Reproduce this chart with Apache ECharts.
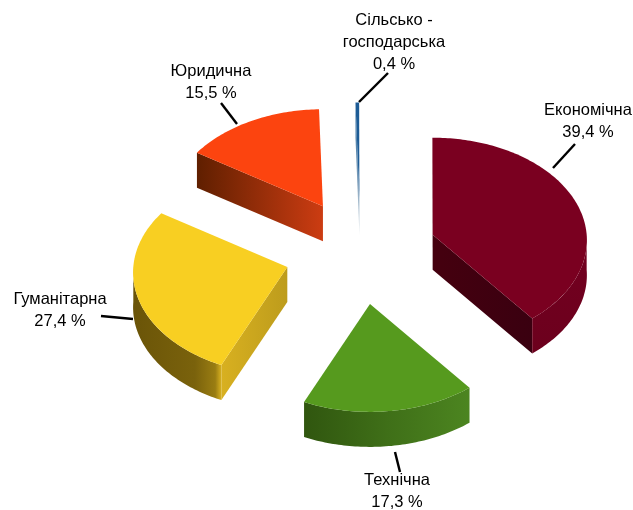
<!DOCTYPE html>
<html><head><meta charset="utf-8">
<style>html,body{margin:0;padding:0;background:#fff}#c{width:633px;height:510px}</style>
<script src="https://cdn.jsdelivr.net/npm/echarts@6/dist/echarts.min.js"></script>
</head><body><div id="c"></div>
<script>
const categories = ['Економічна','Технічна','Гуманітарна','Юридична','Сільсько -\nгосподарська'];
const values = [39.4, 17.3, 27.4, 15.5, 0.4];

const topColors = ['#7a0020','#569a1e','#f8cf22','#fc440f','#1d5c96'];
const arcStops = [
  [[0,'#730020'],[1,'#6c001d']],
  [[0,'#30560f'],[0.5,'#3f6f18'],[1,'#4c8520']],
  [[0,'#6a5408'],[0.7,'#7a620c'],[0.93,'#9a7d12'],[1,'#d8b020']],
  [[0,'#5f1f00'],[1,'#c83a10']],
  [[0,'#1d5c96'],[1,'#1d5c96']]
];
const radialStops = [
  [[0,'#3a0010'],[1,'#45000f']],
  [[0,'#30560f'],[1,'#4c8520']],
  [[0,'#d8b020'],[1,'#bd9c1c']],
  [[0,'#5f1f00'],[1,'#cc3c12']],
  [[0,'#2a6aa0'],[0.6,'#7f9fba'],[1,'#dfe6ea']]
];
const labelCenters = [[588,110],[397,480],[60,299],[211,71],[394,20]];
const leaderLines = [
  [[575,144],[553,168]],
  [[395,452],[400,472]],
  [[101,316],[133,319]],
  [[221,103],[237,124]],
  [[388,73],[359,102]]
];

const START_DEG = -0.1, CX = 360.5, CY = 251.9, EX = 76.4, EY = 52.4;
const RX = 154, RY = 102.2, PERSP = 0.0536, DEPTH = 35;
const total = values.reduce((a,b)=>a+b,0);
const rad = d => d*Math.PI/180;

function rimPoint(ax, ay, deg, dy){
  const t = rad(deg), w = 1 + PERSP*Math.cos(t);
  return [ax + RX*Math.sin(t)/w, ay - RY*Math.cos(t)/w + dy];
}
function arcPoints(ax, ay, from, to, dy){
  const pts = [], n = Math.max(2, Math.ceil(Math.abs(to-from)));
  for (let i=0;i<=n;i++) pts.push(rimPoint(ax, ay, from+(to-from)*i/n, dy));
  return pts;
}
function grad(dir,stops){
  return new echarts.graphic.LinearGradient(dir[0],dir[1],dir[2],dir[3],stops.map(s=>({offset:s[0],color:s[1]})));
}
function renderSlice(params, api){
  const i = params.dataIndex, v = api.value(0);
  let before = 0;
  for (let k=0;k<i;k++) before += values[k];
  const a0 = START_DEG + before/total*360, a1 = a0 + v/total*360, mid = (a0+a1)/2;
  const ax = CX + EX*Math.sin(rad(mid)), ay = CY - EY*Math.cos(rad(mid));
  const kids = [];
  // radial faces that look toward the viewer; the sliver always shows one
  [[a0,-90],[a1,90]].forEach(([edge,off],side)=>{
    const facing = i === 4 ? side === 0 : Math.cos(rad(edge+off)) < 0;
    if (facing) {
      const o = rimPoint(ax,ay,edge,0), b = rimPoint(ax,ay,edge,DEPTH);
      const dir = i === 4 ? [0,0,0,1] : (o[0] < ax ? [0,0,1,0] : [1,0,0,0]);
      kids.push({type:'polygon',shape:{points:[[ax,ay],o,b,[ax,ay+DEPTH]]},
        style:{fill:grad(dir,radialStops[i]),lineWidth:0}});
    }
  });
  // outer wall, only the front half of the rim
  const f0 = Math.max(a0,90), f1 = Math.min(a1,270);
  if (f1 > f0) {
    const top = arcPoints(ax,ay,f0,f1,0), bot = arcPoints(ax,ay,f1,f0,DEPTH);
    const dir = i === 0 ? [0,0,0,1] : [0,0,1,0];
    kids.push({type:'polygon',shape:{points:top.concat(bot)},
      style:{fill:grad(dir,arcStops[i]),lineWidth:0}});
  }
  // top face
  kids.push({type:'polygon',shape:{points:[[ax,ay]].concat(arcPoints(ax,ay,a0,a1,0))},
    style:{fill:topColors[i],lineWidth:0}});
  // leader and label
  kids.push({type:'line',shape:{x1:leaderLines[i][0][0],y1:leaderLines[i][0][1],x2:leaderLines[i][1][0],y2:leaderLines[i][1][1]},
    style:{stroke:'#000',lineWidth:2.4}});
  const label = categories[i] + '\n' + String(v).replace('.',',') + ' %';
  kids.push({type:'text',style:{x:labelCenters[i][0],y:labelCenters[i][1]-11,text:label,
    align:'center',verticalAlign:'top',font:'16.5px "Liberation Sans", Arial, sans-serif',lineHeight:22,fill:'#000'}});
  return {type:'group',children:kids};
}

const chart = echarts.init(document.getElementById('c'));
chart.setOption({
  animation:false,
  backgroundColor:'#fff',
  series:[{
    type:'custom',
    coordinateSystem:'none',
    renderItem:renderSlice,
    data:categories.map((n,i)=>({name:n,value:[values[i]]}))
  }]
});
</script></body></html>
